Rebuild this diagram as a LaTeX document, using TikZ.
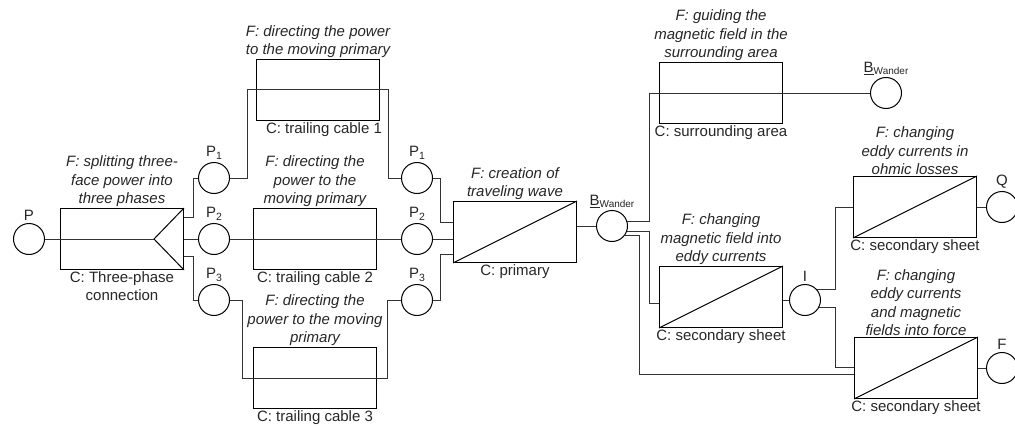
\documentclass[tikz,border=0pt]{standalone}
\usepackage{fontspec}
\setmainfont{Liberation Sans}
\usetikzlibrary{calc}
\tikzset{
  fnbox/.style={draw=black, line width=1pt, minimum width=123pt, minimum height=61pt, inner sep=0pt},
  port/.style={draw=black, line width=1pt, circle, minimum size=31pt, inner sep=0pt},
  wire/.style={draw=black!80, line width=1pt},
  ftext/.style={font=\fontsize{15}{18.5}\selectfont\itshape, align=center, inner sep=0.8pt, text=black!85},
  ctext/.style={font=\fontsize{15}{18.5}\selectfont, align=center, inner sep=1pt, text=black!85},
  plabel/.style={font=\fontsize{15}{15}\selectfont, inner sep=0.5pt, text=black!85, label distance=1.5pt}
}
\newcommand{\psub}[2]{#1\raisebox{-3pt}{\fontsize{10.5}{10}\selectfont #2}}
\newcommand{\bwander}{\underline{B}\raisebox{-1.5pt}{\fontsize{10}{10}\selectfont Wander}}
\begin{document}
\begin{tikzpicture}[x=1pt,y=-1pt]
\useasboundingbox (0,0) rectangle (1015,428);

% function boxes
\node[fnbox] (split) at (122,239) {};
\node[fnbox] (tc1)   at (318,90) {};
\node[fnbox] (tc2)   at (315,239) {};
\node[fnbox] (tc3)   at (315,378) {};
\node[fnbox] (prim)  at (515,232) {};
\node[fnbox] (surr)  at (721,93) {};
\node[fnbox] (sec1)  at (721,297) {};
\node[fnbox] (secQ)  at (915,207) {};
\node[fnbox] (secF)  at (916,368) {};

% function and carrier texts
\node[ftext, anchor=south] (splitf) at (split.north) {F: splitting three-\\face power into\\three phases};
\node[ctext, anchor=north] (splitc) at (split.south) {C: Three-phase\\connection};
\node[ftext, anchor=south] (tc1f) at (tc1.north) {F: directing the power\\to the moving primary};
\node[ctext, anchor=north] (tc1c) at ([xshift=6pt]tc1.south) {C: trailing cable 1};
\node[ftext, anchor=south] (tc2f) at (tc2.north) {F: directing the\\power to the\\moving primary};
\node[ctext, anchor=north] (tc2c) at (tc2.south) {C: trailing cable 2};
\node[ftext, anchor=south] (tc3f) at (tc3.north) {F: directing the\\power to the moving\\primary};
\node[ctext, anchor=north] (tc3c) at (tc3.south) {C: trailing cable 3};
\node[ftext, anchor=south] (primf) at (prim.north) {F: creation of\\traveling wave};
\node[ctext, anchor=north] (primc) at (prim.south) {C: primary};
\node[ftext, anchor=south] (surrf) at (surr.north) {F: guiding the\\magnetic field in the\\surrounding area};
\node[ctext, anchor=north] (surrc) at (surr.south) {C: surrounding area};
\node[ftext, anchor=south] (sec1f) at (sec1.north) {F: changing\\magnetic field into\\eddy currents};
\node[ctext, anchor=north] (sec1c) at (sec1.south) {C: secondary sheet};
\node[ftext, anchor=south] (secQf) at (secQ.north) {F: changing\\eddy currents in\\ohmic losses};
\node[ctext, anchor=north] (secQc) at (secQ.south) {C: secondary sheet};
\node[ftext, anchor=south] (secFf) at (secF.north) {F: changing\\eddy currents\\and magnetic\\fields into force};
\node[ctext, anchor=north] (secFc) at (secF.south) {C: secondary sheet};

% splitter symbol and converter diagonals
\coordinate (apex) at ($(split.east)+(-30,0)$);
\draw[line width=1pt] (split.north east) -- (apex) -- (split.south east);
\foreach \b in {prim,sec1,secQ,secF}
  \draw[line width=1pt] (\b.south west) -- (\b.north east);

% flow ports
\node[port, label={[plabel]above:P}] (P) at (29,239) {};
\node[port, label={[plabel]above:\psub{P}{1}}] (P1a) at (214,178) {};
\node[port, label={[plabel]above:\psub{P}{2}}] (P2a) at (214,239) {};
\node[port, label={[plabel]above:\psub{P}{3}}] (P3a) at (214,300) {};
\node[port, label={[plabel]above:\psub{P}{1}}] (P1b) at (417,178) {};
\node[port, label={[plabel]above:\psub{P}{2}}] (P2b) at (417,239) {};
\node[port, label={[plabel]above:\psub{P}{3}}] (P3b) at (417,300) {};
\node[port, label={[plabel]above:\bwander}] (Ba) at (612,226) {};
\node[port, label={[plabel]above:\bwander}] (Bb) at (886,93) {};
\node[port, label={[plabel]above:I}] (I) at (805,300) {};
\node[port, label={[plabel]above:Q}] (Q) at (1002,207) {};
\node[port, label={[plabel]above:F}] (F) at (1002,368) {};

% connectors
\draw[wire] (P) -- (apex);
\draw[wire] ([yshift=22pt]split.east) -- ++(9,0) |- (P1a);
\draw[wire] (split.east) -- (P2a);
\draw[wire] ([yshift=-17pt]split.east) -- ++(9,0) |- (P3a);

\draw[wire] (P1a) -| ($(tc1.west)+(-9,0)$) -- ($(tc1.east)+(8,0)$) |- (P1b);
\draw[wire] (P2a) -- (P2b);
\draw[wire] (P3a) -| ($(tc3.west)+(-11,0)$) -- ($(tc3.east)+(10,0)$) |- (P3b);

\draw[wire] (P1b) -| ([xshift=-13pt,yshift=10pt]prim.west) -- ([yshift=10pt]prim.west);
\draw[wire] (P2b) -- (P2b -| prim.west);
\draw[wire] (P3b) -| ([xshift=-13pt,yshift=-22pt]prim.west) -- ([yshift=-22pt]prim.west);
\draw[wire] (Ba) -- (Ba -| prim.east);

\draw[wire] (Ba.15) -| ($(surr.west)+(-10,0)$) -- (Bb);
\draw[wire] (Ba.-22) -| ([xshift=-10pt,yshift=-6pt]sec1.west) -- ([yshift=-6pt]sec1.west);
\draw[wire] (Ba.-38) -- ++(15,0) |- ([yshift=-6pt]secF.west);

\draw[wire] (I) -- (I -| sec1.east);
\draw[wire] (I.39) -- ++(18,0) |- (secQ.west);
\draw[wire] (I.-26) -- ++(16,0) |- ([yshift=1pt]secF.west);
\draw[wire] (Q) -- (Q -| secQ.east);
\draw[wire] (F) -- (F -| secF.east);
\end{tikzpicture}
\end{document}
